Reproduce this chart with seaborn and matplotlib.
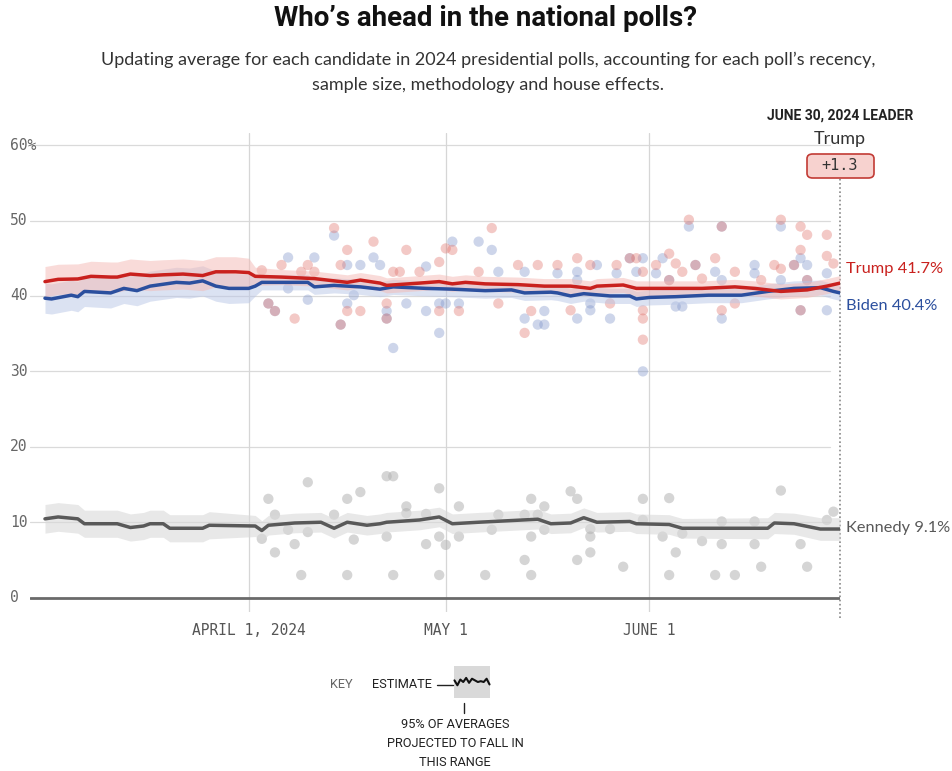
import pandas as pd
import numpy as np
import matplotlib
matplotlib.use("Agg")
import matplotlib.pyplot as plt
from matplotlib.patches import FancyBboxPatch
import seaborn as sns

# ---- estimate lines ----
trump_dates = ["2024-03-01", "2024-03-03", "2024-03-06", "2024-03-08", "2024-03-11", "2024-03-12",
               "2024-03-14", "2024-03-17", "2024-03-19", "2024-03-22", "2024-03-25", "2024-03-27",
               "2024-03-30", "2024-04-01", "2024-04-02", "2024-04-06", "2024-04-11", "2024-04-16",
               "2024-04-18", "2024-04-21", "2024-04-22", "2024-04-27", "2024-04-30", "2024-05-02",
               "2024-05-04", "2024-05-07", "2024-05-12", "2024-05-16", "2024-05-20", "2024-05-23",
               "2024-05-24", "2024-05-28", "2024-05-30", "2024-06-02", "2024-06-05", "2024-06-09",
               "2024-06-14", "2024-06-17", "2024-06-19", "2024-06-21", "2024-06-25", "2024-06-28",
               "2024-06-30"]
trump_est = [41.9, 42.2, 42.25, 42.6, 42.5, 42.5, 42.9, 42.7, 42.8, 42.9, 42.7, 43.2,
             43.2, 43.1, 42.6, 42.5, 42.3, 41.8, 42.1, 41.7, 41.4, 41.7, 41.9, 41.6,
             41.8, 41.6, 41.5, 41.3, 41.3, 41.0, 41.3, 41.45, 41.0, 41.0, 41.0, 41.0,
             41.2, 41.0, 40.8, 40.6, 40.8, 41.3, 41.7]
trump_band = [2.0, 2.0, 2.0, 2.0, 2.0, 2.0, 2.0, 2.0, 2.0, 2.0, 2.0, 2.0,
              2.0, 1.9, 1.2, 1.0, 1.0, 1.0, 1.0, 1.0, 1.0, 1.0, 1.0, 1.0,
              1.0, 1.0, 1.0, 1.0, 1.0, 1.0, 1.0, 1.0, 1.0, 1.0, 1.0, 1.0,
              1.0, 1.0, 1.0, 1.0, 1.0, 1.0, 1.0]

biden_dates = ["2024-03-01", "2024-03-02", "2024-03-05", "2024-03-06", "2024-03-07", "2024-03-11",
               "2024-03-13", "2024-03-15", "2024-03-17", "2024-03-21", "2024-03-23", "2024-03-25",
               "2024-03-27", "2024-03-29", "2024-04-01", "2024-04-02", "2024-04-03", "2024-04-10",
               "2024-04-11", "2024-04-14", "2024-04-18", "2024-04-21", "2024-04-23", "2024-04-28",
               "2024-05-02", "2024-05-07", "2024-05-11", "2024-05-13", "2024-05-17", "2024-05-18",
               "2024-05-20", "2024-05-22", "2024-05-26", "2024-05-29", "2024-05-30", "2024-06-01",
               "2024-06-05", "2024-06-10", "2024-06-15", "2024-06-19", "2024-06-23", "2024-06-27",
               "2024-06-29", "2024-06-30"]
biden_est = [39.7, 39.6, 40.1, 39.9, 40.6, 40.4, 41.0, 40.7, 41.3, 41.8, 41.7, 42.0,
             41.3, 41.0, 41.0, 41.3, 41.8, 41.8, 41.2, 41.4, 41.2, 40.9, 41.2, 41.0,
             40.9, 40.7, 40.8, 40.4, 40.5, 40.4, 40.0, 40.3, 40.0, 40.0, 39.6, 39.8,
             39.9, 40.1, 40.1, 40.6, 41.0, 41.1, 40.6, 40.4]
biden_band = [2.0, 2.0, 2.0, 2.0, 2.0, 2.0, 2.0, 2.0, 2.0, 2.0, 2.0, 2.0,
              2.0, 2.0, 1.9, 1.3, 1.0, 1.0, 1.0, 1.0, 1.0, 1.0, 1.0, 1.0,
              1.0, 1.0, 1.0, 1.0, 1.0, 1.0, 1.0, 1.0, 1.0, 1.0, 1.0, 1.0,
              1.0, 1.0, 1.0, 1.0, 1.0, 1.0, 1.0, 1.0]

kennedy_dates = ["2024-03-01", "2024-03-03", "2024-03-06", "2024-03-07", "2024-03-12", "2024-03-14",
                 "2024-03-16", "2024-03-17", "2024-03-19", "2024-03-20", "2024-03-25", "2024-03-26",
                 "2024-04-02", "2024-04-03", "2024-04-04", "2024-04-08", "2024-04-12", "2024-04-14",
                 "2024-04-16", "2024-04-19", "2024-04-21", "2024-04-22", "2024-04-27", "2024-04-30",
                 "2024-05-02", "2024-05-06", "2024-05-15", "2024-05-17", "2024-05-20", "2024-05-22",
                 "2024-05-24", "2024-05-29", "2024-05-30", "2024-06-04", "2024-06-06", "2024-06-19",
                 "2024-06-20", "2024-06-23", "2024-06-27", "2024-06-30"]
kennedy_est = [10.45, 10.7, 10.45, 9.8, 9.8, 9.3, 9.5, 9.8, 9.8, 9.2, 9.2, 9.6,
               9.5, 8.9, 9.6, 9.9, 10.0, 9.2, 10.0, 9.6, 9.8, 10.0, 10.3, 10.7,
               9.8, 10.0, 10.4, 9.8, 9.9, 10.6, 10.0, 10.1, 9.8, 9.7, 9.2, 9.2,
               9.9, 9.8, 9.1, 9.1]
kennedy_band = [1.9, 1.9, 1.9, 1.8, 1.8, 1.8, 1.8, 1.8, 1.8, 1.8, 1.8, 1.8,
                1.4, 1.3, 1.3, 1.3, 1.3, 1.3, 1.3, 1.3, 1.3, 1.3, 1.3, 1.3,
                1.3, 1.3, 1.3, 1.3, 1.3, 1.3, 1.3, 1.3, 1.3, 1.3, 1.3, 1.4,
                1.4, 1.4, 1.5, 1.5]

# ---- individual polls ----
trump_poll_dates = ["2024-04-03", "2024-04-04", "2024-04-05", "2024-04-06", "2024-04-08", "2024-04-09",
                    "2024-04-10", "2024-04-11", "2024-04-14", "2024-04-15", "2024-04-15", "2024-04-16",
                    "2024-04-16", "2024-04-18", "2024-04-20", "2024-04-22", "2024-04-22", "2024-04-23",
                    "2024-04-24", "2024-04-25", "2024-04-27", "2024-04-30", "2024-04-30", "2024-05-01",
                    "2024-05-02", "2024-05-03", "2024-05-06", "2024-05-08", "2024-05-09", "2024-05-12",
                    "2024-05-13", "2024-05-14", "2024-05-15", "2024-05-18", "2024-05-20", "2024-05-21",
                    "2024-05-23", "2024-05-26", "2024-05-27", "2024-05-29", "2024-05-30", "2024-05-31",
                    "2024-05-31", "2024-05-31", "2024-05-31", "2024-06-02", "2024-06-04", "2024-06-04",
                    "2024-06-05", "2024-06-06", "2024-06-07", "2024-06-08", "2024-06-09", "2024-06-11",
                    "2024-06-12", "2024-06-12", "2024-06-14", "2024-06-14", "2024-06-18", "2024-06-20",
                    "2024-06-21", "2024-06-21", "2024-06-23", "2024-06-24", "2024-06-24", "2024-06-24",
                    "2024-06-25", "2024-06-25", "2024-06-28", "2024-06-28", "2024-06-29"]
trump_polls = [43.4, 39.0, 38.0, 44.1, 37.0, 43.2,
               44.1, 43.2, 49.0, 44.1, 36.2, 46.1,
               38.0, 38.0, 47.2, 39.0, 37.0, 43.2,
               43.2, 46.1, 43.2, 44.5, 38.0, 46.3,
               46.1, 38.0, 43.2, 49.0, 39.0, 44.1,
               35.1, 38.0, 44.1, 44.1, 38.1, 45.0,
               44.1, 39.0, 44.1, 45.0, 45.0, 43.2,
               38.1, 37.0, 34.2, 44.1, 45.6, 42.1,
               44.3, 43.2, 50.1, 44.1, 42.3, 45.0,
               38.1, 49.2, 43.2, 39.0, 42.1, 44.1,
               50.1, 43.6, 44.1, 49.2, 46.1, 38.1,
               48.1, 42.1, 48.1, 45.3, 44.3]

biden_poll_dates = ["2024-04-04", "2024-04-05", "2024-04-07", "2024-04-07", "2024-04-10", "2024-04-11",
                    "2024-04-14", "2024-04-15", "2024-04-16", "2024-04-16", "2024-04-17", "2024-04-18",
                    "2024-04-20", "2024-04-21", "2024-04-22", "2024-04-22", "2024-04-23", "2024-04-25",
                    "2024-04-28", "2024-04-28", "2024-04-30", "2024-04-30", "2024-05-01", "2024-05-02",
                    "2024-05-03", "2024-05-06", "2024-05-08", "2024-05-09", "2024-05-13", "2024-05-13",
                    "2024-05-15", "2024-05-16", "2024-05-16", "2024-05-18", "2024-05-21", "2024-05-21",
                    "2024-05-21", "2024-05-23", "2024-05-23", "2024-05-24", "2024-05-26", "2024-05-27",
                    "2024-05-29", "2024-05-30", "2024-05-31", "2024-05-31", "2024-06-02", "2024-06-03",
                    "2024-06-04", "2024-06-05", "2024-06-06", "2024-06-07", "2024-06-08", "2024-06-11",
                    "2024-06-12", "2024-06-12", "2024-06-12", "2024-06-17", "2024-06-17", "2024-06-21",
                    "2024-06-21", "2024-06-23", "2024-06-24", "2024-06-24", "2024-06-25", "2024-06-25",
                    "2024-06-28", "2024-06-28"]
biden_polls = [39.0, 38.0, 45.1, 41.0, 39.5, 45.1,
               48.0, 36.2, 44.1, 39.0, 40.1, 44.1,
               45.1, 44.1, 38.0, 37.0, 33.1, 39.0,
               43.9, 38.0, 39.0, 35.1, 39.0, 47.2,
               39.0, 47.2, 46.1, 43.2, 43.2, 37.0,
               36.2, 38.0, 36.2, 43.0, 43.2, 42.1,
               37.0, 39.0, 38.1, 44.1, 37.0, 43.0,
               45.0, 43.2, 45.0, 30.0, 43.0, 45.0,
               42.1, 38.6, 38.6, 49.2, 44.1, 43.2,
               37.0, 42.1, 49.2, 44.1, 43.0, 49.2,
               42.1, 44.1, 45.0, 38.1, 44.1, 42.1,
               38.1, 43.0]

kennedy_poll_dates = ["2024-04-03", "2024-04-04", "2024-04-05", "2024-04-05", "2024-04-07", "2024-04-08",
                      "2024-04-09", "2024-04-10", "2024-04-10", "2024-04-14", "2024-04-16", "2024-04-16",
                      "2024-04-17", "2024-04-18", "2024-04-22", "2024-04-23", "2024-04-22", "2024-04-23",
                      "2024-04-25", "2024-04-25", "2024-04-28", "2024-04-28", "2024-04-30", "2024-04-30",
                      "2024-04-30", "2024-05-01", "2024-05-03", "2024-05-03", "2024-05-07", "2024-05-08",
                      "2024-05-09", "2024-05-13", "2024-05-13", "2024-05-14", "2024-05-14", "2024-05-14",
                      "2024-05-15", "2024-05-16", "2024-05-16", "2024-05-20", "2024-05-21", "2024-05-21",
                      "2024-05-23", "2024-05-23", "2024-05-23", "2024-05-26", "2024-05-28", "2024-05-31",
                      "2024-05-31", "2024-06-03", "2024-06-04", "2024-06-04", "2024-06-05", "2024-06-06",
                      "2024-06-09", "2024-06-11", "2024-06-12", "2024-06-12", "2024-06-14", "2024-06-17",
                      "2024-06-17", "2024-06-18", "2024-06-21", "2024-06-24", "2024-06-25", "2024-06-28",
                      "2024-06-29"]
kennedy_polls = [7.8, 13.1, 11.0, 6.0, 9.0, 7.1,
                 3.0, 15.3, 8.7, 11.0, 13.1, 3.0,
                 7.7, 14.0, 16.1, 16.1, 8.1, 3.0,
                 12.1, 11.2, 11.1, 7.1, 14.5, 8.1,
                 3.0, 7.0, 12.1, 8.1, 3.0, 9.0,
                 11.0, 11.0, 5.0, 13.1, 8.1, 3.0,
                 11.0, 12.1, 9.0, 14.1, 13.1, 5.0,
                 9.1, 8.1, 6.0, 9.1, 4.1, 13.1,
                 10.3, 8.1, 13.2, 3.0, 6.0, 8.5,
                 7.5, 3.0, 10.1, 7.1, 3.0, 10.1,
                 7.1, 4.1, 14.2, 7.1, 4.1, 10.3,
                 11.4]

# ---- axis / labels ----
y_ticks = [0, 10, 20, 30, 40, 50, 60]
y_tick_labels = ["0", "10", "20", "30", "40", "50", "60%"]
x_tick_dates = ["2024-04-01", "2024-05-01", "2024-06-01"]
x_tick_labels = ["APRIL 1, 2024", "MAY 1", "JUNE 1"]
end_labels = ["Trump 41.7%", "Biden 40.4%", "Kennedy 9.1%"]
leader_name = "Trump"
leader_margin = "+1.3"

# key sample
key_steps = [0, 1, 2, 3, 4, 5, 6, 7, 8, 9, 10, 11, 12]
key_line = [0.2, -0.4, 0.3, 0.0, 0.5, -0.1, 0.4, 0.2, 0.0, 0.1, 0.0, 0.4, -0.3]

# colors
TRUMP = "#c9211e"
BIDEN = "#2b4f9e"
KENNEDY = "#595959"


def frame(dates, vals, band=None):
    df = pd.DataFrame({"date": pd.to_datetime(dates), "value": vals})
    if band is not None:
        df["band"] = band
    return df


sns.set_style("white")
plt.rcParams["font.family"] = ["Lato", "DejaVu Sans"]

W, H = 953, 771
fig = plt.figure(figsize=(W / 100, H / 100), dpi=100)

# axes: x 30..840 px, y 133..612 px
ax = fig.add_axes([30 / W, 1 - 612 / H, 810 / W, 479 / H])
start = pd.Timestamp("2024-03-01")
end = pd.Timestamp("2024-06-30")
ax.set_xlim(start - pd.Timedelta(hours=2.28 * 24), end)
ax.set_ylim(-1.9, 61.6)
ax.axis("off")

# grid
for v in y_ticks[1:]:
    ax.axhline(v, xmin=0, xmax=800 / 810, color="#dadada", lw=0.9, zorder=0)
for d in x_tick_dates:
    ax.axvline(pd.Timestamp(d), color="#d6d6d6", lw=0.9, zorder=0)
ax.axhline(0, color="#6a6a6a", lw=2.0, zorder=1)

trump_df = frame(trump_dates, trump_est, trump_band)
biden_df = frame(biden_dates, biden_est, biden_band)
kennedy_df = frame(kennedy_dates, kennedy_est, kennedy_band)

# poll dots
sns.scatterplot(data=frame(kennedy_poll_dates, kennedy_polls), x="date", y="value", ax=ax,
                color="#b3b3b3", alpha=0.55, s=55, edgecolor="none", zorder=2)
sns.scatterplot(data=frame(biden_poll_dates, biden_polls), x="date", y="value", ax=ax,
                color="#7d93c8", alpha=0.38, s=55, edgecolor="none", zorder=2)
sns.scatterplot(data=frame(trump_poll_dates, trump_polls), x="date", y="value", ax=ax,
                color="#e0726b", alpha=0.38, s=55, edgecolor="none", zorder=2)

# bands
for df, col, a in [(kennedy_df, "#d9d9d9", 0.6), (biden_df, "#b9c6e6", 0.5), (trump_df, "#f4b9b4", 0.5)]:
    ax.fill_between(df["date"], df["value"] - df["band"], df["value"] + df["band"],
                    color=col, alpha=a, lw=0, zorder=3)

# estimate lines
for df, col in [(kennedy_df, KENNEDY), (biden_df, BIDEN), (trump_df, TRUMP)]:
    sns.lineplot(data=df, x="date", y="value", ax=ax, color=col, lw=2.5, zorder=4)

ax.axis("off")

# y labels
mono = ["DejaVu Sans Mono"]
for v, lab in zip(y_ticks, y_tick_labels):
    ax.text(-20 / 810, v, lab, transform=ax.get_yaxis_transform(), ha="left", va="center",
            fontsize=10.5, color="#666666", family=mono)
# x labels
for d, lab in zip(x_tick_dates, x_tick_labels):
    ax.text(pd.Timestamp(d), -3.4, lab, ha="center", va="top", fontsize=10.5,
            color="#555555", family=mono, clip_on=False)

# end dotted line
ax.plot([end, end], [-2.7, 58.0], color="#888888", lw=1.2, ls=(0, (1, 1.5)), clip_on=False, zorder=1)

# end labels
for lab, yv, col in zip(end_labels, [43.6, 38.7, 9.2], [TRUMP, BIDEN, KENNEDY]):
    ax.annotate(lab, xy=(end, yv), xytext=(4, 0), textcoords="offset points", ha="left", va="center",
                fontsize=11.8, color=col, annotation_clip=False)

# leader header
fig.text(840 / W, 1 - 116 / H, "JUNE 30, 2024 LEADER", ha="center", va="center",
         fontsize=10, fontweight="bold", color="#222222", family=["Roboto", "DejaVu Sans"])
fig.text(840 / W, 1 - 139 / H, leader_name, ha="center", va="center", fontsize=13, color="#333333")
box = FancyBboxPatch((807 / W, 1 - 178 / H), 67 / W, 24 / H, boxstyle="round,pad=0,rounding_size=0.006",
                     transform=fig.transFigure, facecolor="#f7d2cf", edgecolor="#c23b35", lw=1.2)
fig.patches.append(box)
fig.text(840 / W, 1 - 166 / H, leader_margin, ha="center", va="center", fontsize=11,
         color="#333333", family=mono)

# title + subtitle
fig.text(486 / W, 1 - 18 / H, "Who\u2019s ahead in the national polls?", ha="center", va="center",
         fontsize=20, fontweight="bold", color="#111111", family=["Roboto", "DejaVu Sans"])
fig.text(488 / W, 1 - 60 / H,
         "Updating average for each candidate in 2024 presidential polls, accounting for each poll\u2019s recency,",
         ha="center", va="center", fontsize=13, color="#333333")
fig.text(488 / W, 1 - 85 / H, "sample size, methodology and house effects.",
         ha="center", va="center", fontsize=13, color="#333333")

# key
fig.text(330 / W, 1 - 685 / H, "KEY", ha="left", va="center", fontsize=9.2, color="#666666",
         family=["Roboto", "DejaVu Sans"])
fig.text(372 / W, 1 - 685 / H, "ESTIMATE", ha="left", va="center", fontsize=9.2, color="#222222",
         family=["Roboto", "DejaVu Sans"])
kax = fig.add_axes([453 / W, 1 - 700 / H, 38 / W, 36 / H])
key_df = pd.DataFrame({"step": key_steps, "value": key_line})
kax.fill_between(key_df["step"], -2, 2, color="#d9d9d9", lw=0)
sns.lineplot(data=key_df, x="step", y="value", ax=kax, color="#111111", lw=1.5)
kax.set_xlim(-0.5, 12.5)
kax.set_ylim(-2.2, 2.2)
kax.axis("off")
fig.add_artist(plt.Line2D([437 / W, 453 / W], [1 - 685 / H, 1 - 685 / H], color="#222222", lw=1,
                          transform=fig.transFigure))
fig.add_artist(plt.Line2D([464 / W, 464 / W], [1 - 703 / H, 1 - 713 / H], color="#222222", lw=1,
                          transform=fig.transFigure))
for i, line in enumerate(["95% OF AVERAGES", "PROJECTED TO FALL IN", "THIS RANGE"]):
    fig.text(455 / W, 1 - (725 + 18.5 * i) / H, line, ha="center", va="center", fontsize=9.2,
             color="#222222", family=["Roboto", "DejaVu Sans"])

fig.savefig("out.png", dpi=100)
